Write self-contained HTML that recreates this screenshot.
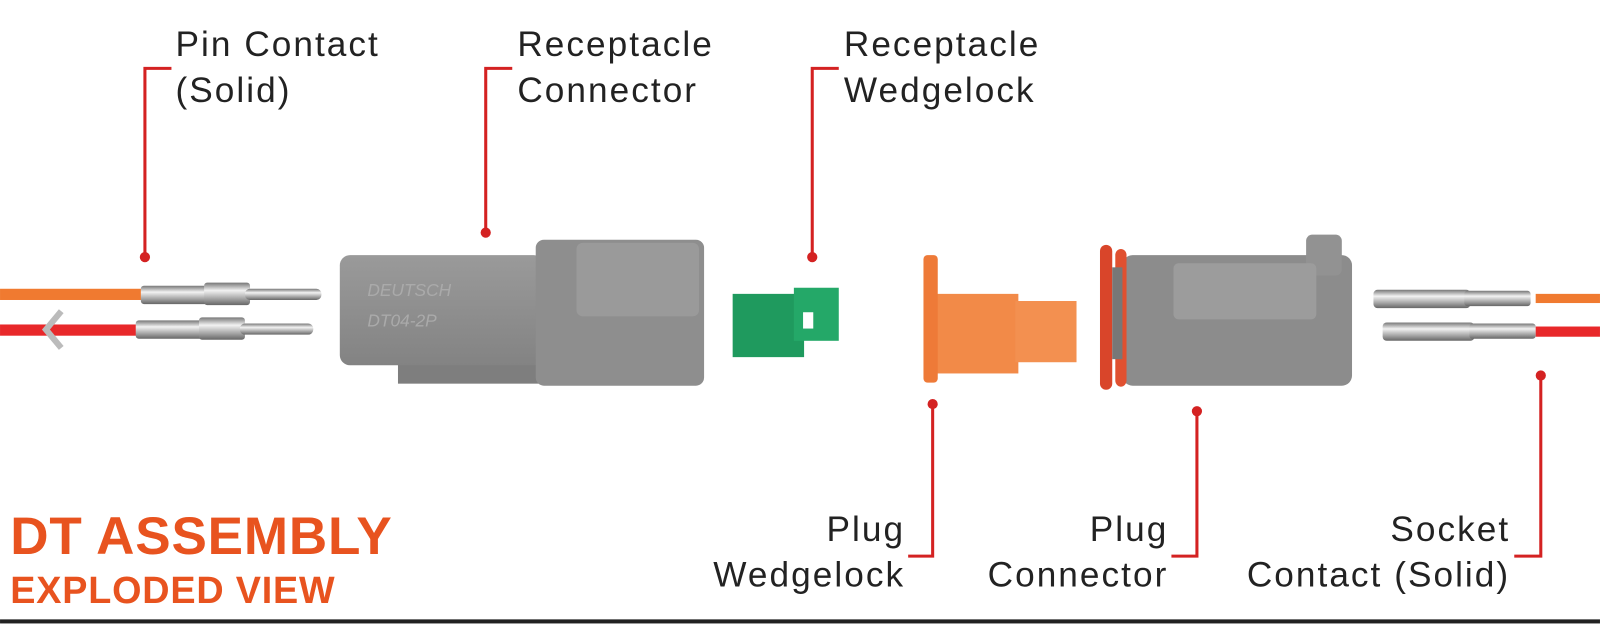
<!DOCTYPE html>
<html><head><style>body{margin:0;background:#fff}svg{display:block}text{font-family:"Liberation Sans",sans-serif}</style></head><body>
<svg width="1600" height="626" viewBox="0 0 1568 613.5">
<defs>
<linearGradient id="met" x1="0" y1="0" x2="0" y2="1"><stop offset="0" stop-color="#777"/><stop offset=".35" stop-color="#f2f2f2"/><stop offset=".7" stop-color="#a8a8a8"/><stop offset="1" stop-color="#666"/></linearGradient>
<linearGradient id="gr" x1="0" y1="0" x2="0" y2="1"><stop offset="0" stop-color="#9a9a9a"/><stop offset="1" stop-color="#838383"/></linearGradient>
</defs>
<g font-size="34.5" fill="#222" letter-spacing="2">
<text x="172" y="55">Pin Contact</text><text x="172" y="100">(Solid)</text>
<text x="507" y="55">Receptacle</text><text x="507" y="100">Connector</text>
<text x="827" y="55">Receptacle</text><text x="827" y="100">Wedgelock</text>
<g text-anchor="end"><text x="887" y="530">Plug</text><text x="887" y="575">Wedgelock</text>
<text x="1145" y="530">Plug</text><text x="1145" y="575">Connector</text>
<text x="1480" y="530">Socket</text><text x="1480" y="575">Contact (Solid)</text></g>
</g>
<g stroke="#d42222" stroke-width="3" fill="none">
<path d="M168 67H142V252M502 67H476V228M822 67H796V252M890 545H914V396M1148 545H1173V403M1484 545H1510V368"/>
</g>
<g fill="#d42222"><circle cx="142" cy="252" r="5"/><circle cx="476" cy="228" r="5"/><circle cx="796" cy="252" r="5"/><circle cx="914" cy="396" r="5"/><circle cx="1173" cy="403" r="5"/><circle cx="1510" cy="368" r="5"/></g>
<text x="10" y="543" font-size="52" font-weight="bold" fill="#e8531f" letter-spacing="0.8">DT ASSEMBLY</text>
<text x="10" y="591" font-size="37" font-weight="bold" fill="#e8531f" letter-spacing="0.8">EXPLODED VIEW</text>
<rect x="0" y="607" width="1568" height="4" fill="#222"/>
<rect x="0" y="283" width="140" height="11" fill="#f07a30"/>
<rect x="0" y="318" width="135" height="11" fill="#e8282a"/>
<path d="M60 305L45 323L60 341" stroke="#bbb" stroke-width="6" fill="none"/>
<g fill="url(#met)"><rect x="138" y="280" width="75" height="18" rx="3"/><rect x="200" y="277" width="45" height="22" rx="3"/><rect x="240" y="283" width="75" height="11" rx="5"/>
<rect x="133" y="314" width="75" height="18" rx="3"/><rect x="195" y="311" width="45" height="22" rx="3"/><rect x="235" y="317" width="72" height="11" rx="5"/></g>
<rect x="390" y="350" width="140" height="26" fill="#7e7e7e"/>
<rect x="333" y="250" width="200" height="108" rx="10" fill="url(#gr)"/>
<rect x="525" y="235" width="165" height="143" rx="8" fill="#8e8e8e"/>
<rect x="565" y="238" width="120" height="72" rx="6" fill="#9a9a9a"/>
<text x="360" y="290" font-size="17" fill="#aaa" font-style="italic">DEUTSCH</text>
<text x="360" y="320" font-size="17" fill="#aaa" font-style="italic">DT04-2P</text>
<rect x="718" y="288" width="70" height="62" fill="#1f9a5e"/><rect x="778" y="282" width="44" height="52" fill="#24a868"/><rect x="787" y="306" width="10" height="16" fill="#fff"/>
<rect x="918" y="288" width="80" height="78" fill="#f28a48"/><rect x="995" y="295" width="60" height="60" fill="#f39050"/>
<rect x="905" y="250" width="14" height="125" rx="4" fill="#ee7a38"/>
<rect x="1100" y="250" width="225" height="128" rx="10" fill="#8c8c8c"/>
<rect x="1280" y="230" width="35" height="40" rx="6" fill="#929292"/>
<rect x="1150" y="258" width="140" height="55" rx="5" fill="#9c9c9c"/>
<rect x="1078" y="240" width="12" height="142" rx="6" fill="#d9452a"/><rect x="1093" y="244" width="11" height="135" rx="6" fill="#e05030"/>
<rect x="1090" y="262" width="10" height="90" fill="#777"/>
<g fill="url(#met)"><rect x="1346" y="284" width="95" height="18" rx="4"/><rect x="1435" y="285" width="65" height="15" rx="3"/>
<rect x="1355" y="316" width="90" height="18" rx="4"/><rect x="1440" y="317" width="65" height="15" rx="3"/></g>
<rect x="1505" y="288" width="63" height="9" fill="#f07a30"/>
<rect x="1505" y="320" width="63" height="10" fill="#e8282a"/>
</svg>
</body></html>
